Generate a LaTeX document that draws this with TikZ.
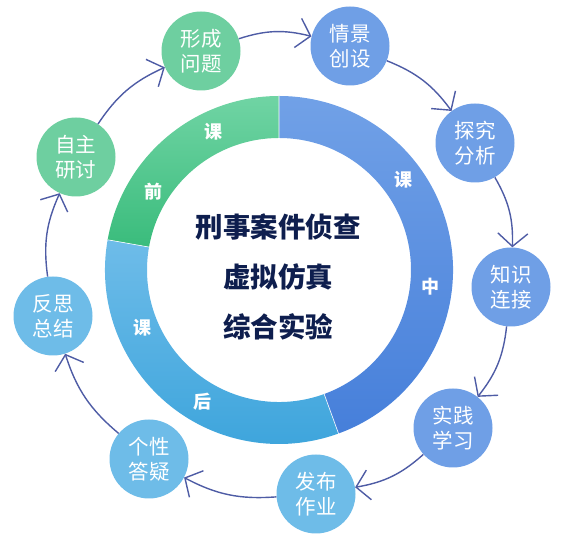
\documentclass[tikz,border=0pt]{standalone}
\usepackage{fontspec}
\setmainfont{Noto Sans CJK SC}
\usetikzlibrary{arrows.meta}
\definecolor{gnode}{RGB}{110,207,160}
\definecolor{bnode}{RGB}{111,159,230}
\definecolor{lnode}{RGB}{110,188,232}
\definecolor{arrowc}{RGB}{78,92,165}
\definecolor{gtop}{RGB}{112,212,164}
\definecolor{gbot}{RGB}{58,188,124}
\definecolor{btop}{RGB}{113,161,231}
\definecolor{bbot}{RGB}{70,127,218}
\definecolor{ltop}{RGB}{110,188,233}
\definecolor{lbot}{RGB}{62,165,220}
\definecolor{navy}{RGB}{14,30,78}
\begin{document}
\begin{tikzpicture}[x=1pt,y=1pt,
  stage/.style={circle, minimum size=79pt, inner sep=0pt, text=white,
    font=\fontsize{20.5}{25}\selectfont, align=center},
  flow/.style={draw=arrowc, line width=1.4pt,
    -{Straight Barb[length=13pt,width=30pt,line width=1.4pt]}, bend left=16},
  ringlbl/.style={text=white, font=\fontsize{18}{18}\selectfont\bfseries},
  title/.style={text=navy, font=\fontsize{27.5}{50}\selectfont\bfseries, align=center}
]
\useasboundingbox (0,0) rectangle (563,545);
% ring
\begin{scope}[shift={(279,275)}]
  \shade[top color=gtop, bottom color=gbot]
    (90:132) -- (90:174) arc[start angle=90,end angle=170,radius=174]
    -- (170:132) arc[start angle=170,end angle=90,radius=132] -- cycle;
  \shade[top color=ltop, bottom color=lbot]
    (170:132) -- (170:174) arc[start angle=170,end angle=290,radius=174]
    -- (290:132) arc[start angle=290,end angle=170,radius=132] -- cycle;
  \shade[top color=btop, bottom color=bbot]
    (-70:132) -- (-70:174) arc[start angle=-70,end angle=90,radius=174]
    -- (90:132) arc[start angle=90,end angle=-70,radius=132] -- cycle;
  \draw[white, line width=0.6pt] (170:131) -- (170:175) (-70:131) -- (-70:175) (90:131) -- (90:175);
\end{scope}
% ring labels
\node[ringlbl] (r1) at (213,413) {课};
\node[ringlbl] (r2) at (153,353) {前};
\node[ringlbl] (r3) at (403,365) {课};
\node[ringlbl] (r4) at (430,258) {中};
\node[ringlbl] (r5) at (142,217) {课};
\node[ringlbl] (r6) at (202,143) {后};
% title
\node[title] (t) at (278,268) {刑事案件侦查\\虚拟仿真\\综合实验};
% stages
\node[stage, fill=gnode] (n1) at (201,494) {形成\\问题};
\node[stage, fill=bnode] (n2) at (350,499) {情景\\创设};
\node[stage, fill=bnode] (n3) at (475,402) {探究\\分析};
\node[stage, fill=bnode] (n4) at (511,258) {知识\\连接};
\node[stage, fill=bnode] (n5) at (453,117) {实践\\学习};
\node[stage, fill=lnode] (n6) at (316,51) {发布\\作业};
\node[stage, fill=lnode] (n7) at (149,86) {个性\\答疑};
\node[stage, fill=lnode] (n8) at (53,229) {反思\\总结};
\node[stage, fill=gnode] (n9) at (76,388) {自主\\研讨};
% connectors
\draw[flow] (n1) to (n2);
\draw[flow] (n2) to (n3);
\draw[flow] (n3) to (n4);
\draw[flow] (n4) to (n5);
\draw[flow] (n5) to (n6);
\draw[flow] (n6) to (n7);
\draw[flow] (n7) to (n8);
\draw[flow] (n8) to (n9);
\draw[flow] (n9) to (n1);
\end{tikzpicture}
\end{document}
